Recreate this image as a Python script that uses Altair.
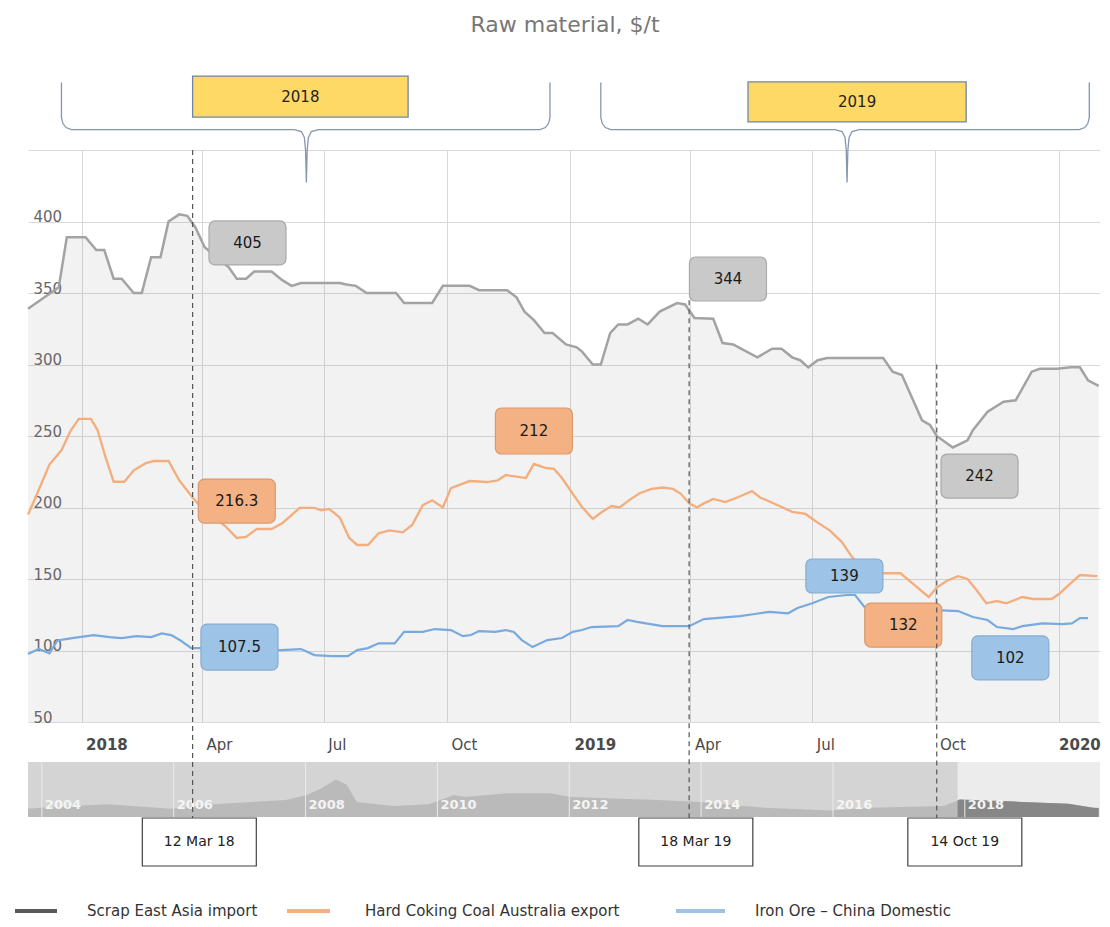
import altair as alt
import pandas as pd

# ---------------- data ----------------
series_names = ["Scrap East Asia import", "Hard Coking Coal Australia export", "Iron Ore – China Domestic"]

scrap_dates = ["2017-11-22","2017-12-15","2017-12-21","2018-01-04","2018-01-12","2018-01-18","2018-01-25","2018-01-31","2018-02-09","2018-02-15",
               "2018-02-22","2018-03-01","2018-03-07","2018-03-15","2018-03-21","2018-03-27","2018-04-03","2018-04-21","2018-04-27","2018-05-04",
               "2018-05-10","2018-05-23","2018-05-31","2018-06-07","2018-06-14","2018-07-13","2018-07-18","2018-07-25","2018-08-02","2018-08-24",
               "2018-08-30","2018-09-20","2018-09-28","2018-10-18","2018-10-25","2018-11-15","2018-11-22","2018-11-28","2018-12-05","2018-12-13",
               "2018-12-19","2018-12-29","2019-01-06","2019-01-10","2019-01-18","2019-01-24","2019-01-31","2019-02-06","2019-02-13","2019-02-21",
               "2019-02-28","2019-03-09","2019-03-22","2019-03-28","2019-04-04","2019-04-18","2019-04-25","2019-05-03","2019-05-08","2019-05-21",
               "2019-06-01","2019-06-08","2019-06-16","2019-06-22","2019-06-28","2019-07-05","2019-07-12","2019-08-23","2019-08-30","2019-09-06",
               "2019-09-21","2019-09-27","2019-10-02","2019-10-14","2019-10-25","2019-10-29","2019-11-09","2019-11-21","2019-11-30","2019-12-12",
               "2019-12-18","2019-12-31","2020-01-10","2020-01-17","2020-01-23","2020-01-31"]
scrap_vals = [339,354,389,389,380,380,360,360,350,350,
              375,375,400,405,404,396,382,368,360,360,
              365,365,359,355,357,357,356,355,350,350,
              343,343,355,355,352,352,347,337,331,322,
              322,314,312,309,300,300,322,328,328,332,
              328,337,343,342,332.5,332,315,314,311.5,305,
              311,311,305,303,298,303,304.5,304.5,295,292.6,
              261,257.7,250,242,247,254,267,274,275,295,
              297,297,298,298,289,285]

coal_dates = ["2017-11-22","2017-11-29","2017-12-08","2017-12-17","2017-12-24","2017-12-30","2018-01-08","2018-01-13","2018-01-19","2018-01-25",
              "2018-02-02","2018-02-09","2018-02-18","2018-02-24","2018-03-07","2018-03-15","2018-03-25","2018-03-30","2018-04-10","2018-04-19",
              "2018-04-27","2018-05-04","2018-05-12","2018-05-23","2018-05-31","2018-06-13","2018-06-24","2018-06-29","2018-07-05","2018-07-13",
              "2018-07-20","2018-07-26","2018-08-03","2018-08-11","2018-08-19","2018-08-29","2018-09-05","2018-09-13","2018-09-20","2018-09-28",
              "2018-10-04","2018-10-18","2018-10-31","2018-11-08","2018-11-14","2018-11-29","2018-12-05","2018-12-14","2018-12-20","2018-12-26",
              "2019-01-02","2019-01-10","2019-01-18","2019-01-25","2019-02-01","2019-02-07","2019-02-14","2019-02-22","2019-03-03","2019-03-11",
              "2019-03-19","2019-03-25","2019-03-31","2019-04-06","2019-04-10","2019-04-18","2019-04-27","2019-05-06","2019-05-17","2019-05-23",
              "2019-06-02","2019-06-16","2019-06-26","2019-07-04","2019-07-14","2019-07-23","2019-07-31","2019-08-11","2019-08-23","2019-09-05",
              "2019-09-15","2019-09-26","2019-10-02","2019-10-10","2019-10-18","2019-10-25","2019-11-01","2019-11-08","2019-11-16","2019-11-23",
              "2019-12-05","2019-12-13","2019-12-27","2020-01-02","2020-01-10","2020-01-17","2020-01-30"]
coal_vals = [195,210,230,240,254,262,262,254,235,218,
             218,226,231,232.5,232.5,219,207,201.7,193,186.4,
             178.7,179.4,185,185,189,199.7,199.7,198,199,193,
             178.7,173.8,173.8,182,184,182.6,187.8,201.7,205,200,
             213.6,218.5,217.8,219,222.7,220.6,230.4,227.6,227,220.6,
             211,200.3,192,197,201,200,205,210,213,214,
             213,209.4,203,200,202.4,206,203.8,207,211.5,207,
             203,197,195.5,190,184,176,165,155,154,154,
             146,137.4,144,149,152,150,142,133,134.6,133,
             137.4,136,136,140,147,152.8,152]

ore_dates = ["2017-11-22","2017-11-30","2017-12-08","2017-12-14","2017-12-25","2018-01-10","2018-01-22","2018-01-31","2018-02-11","2018-02-22",
             "2018-03-02","2018-03-09","2018-03-16","2018-03-24","2018-03-30","2018-04-29","2018-05-30","2018-06-14","2018-06-24","2018-07-07",
             "2018-07-19","2018-07-26","2018-08-03","2018-08-11","2018-08-23","2018-08-30","2018-09-13","2018-09-22","2018-10-04","2018-10-13",
             "2018-10-19","2018-10-25","2018-11-06","2018-11-14","2018-11-20","2018-11-26","2018-12-04","2018-12-15","2018-12-26","2019-01-03",
             "2019-01-10","2019-01-17","2019-02-06","2019-02-13","2019-02-20","2019-03-11","2019-03-31","2019-04-11","2019-04-29","2019-05-08",
             "2019-05-19","2019-05-30","2019-06-13","2019-06-20","2019-07-01","2019-07-13","2019-07-27","2019-08-02","2019-08-09","2019-08-20",
             "2019-09-08","2019-10-06","2019-10-18","2019-10-29","2019-11-09","2019-11-16","2019-11-28","2019-12-05","2019-12-20","2020-01-04",
             "2020-01-11","2020-01-17","2020-01-23"]
ore_vals = [97.6,101,98,107,108.7,110.8,109.4,108.7,110,109.4,
            112,110.8,107,101.7,101.7,101,100.3,101,96.8,96,
            96,100.3,101.7,105,105,113,113,115,114.3,110,
            110.8,113.6,113,114.3,113,107.3,102.4,107.3,108.7,113,
            114.3,116.4,117,121.3,120,117,117,122,123.4,124,
            125.5,127,126,129.7,133,137.4,138.8,138.8,130.4,128,
            129,128,127.6,123.4,121.3,116.4,115,117,119,118.5,
            119,122.7,122.7]

# navigator (long history, thumbnail)
nav_year = [2003.79,2004.02,2004.99,2005.96,2006.61,2007.70,2008.02,2008.24,2008.46,2008.62,
            2008.78,2009.33,2009.87,2010.25,2010.41,2011.06,2011.71,2012.03,2013.34,2013.99,
            2014.96,2015.94,2016.58,2017.68,2017.89,2017.92,2018.75,2019.57,2019.95,2020.03]
nav_vals = [190,205,240,190,240,285,340,415,510,455,
            265,220,240,340,318,360,360,318,285,265,
            200,170,200,220,280,290,268,245,200,198]
nav_label_years = [2004, 2006, 2008, 2010, 2012, 2014, 2016, 2018]
nav_selection = [2017.89, 2020.05]

quarter_ticks = [(2018, 1), (2018, 4), (2018, 7), (2018, 10), (2019, 1), (2019, 4), (2019, 7), (2019, 10), (2020, 1)]
y_ticks = [50, 100, 150, 200, 250, 300, 350, 400, 450]

# annotations
callout_text = ["405", "344", "242", "212", "216.3", "132", "139", "107.5", "102"]
callout_date = ["2018-05-05", "2019-04-29", "2019-11-03", "2018-12-05", "2018-04-27", "2019-09-07", "2019-07-25", "2018-04-29", "2019-11-26"]
callout_value = [385, 359.8, 222, 253.5, 204.5, 117.8, 152.1, 102.4, 94.8]
callout_series = [0, 0, 0, 1, 1, 1, 2, 2, 2]

marker_label = ["12 Mar 18", "18 Mar 19", "14 Oct 19"]
marker_line_date = ["2018-03-25", "2019-03-31", "2019-10-02"]
marker_line_top = [450, 345, 300]
marker_box_date = ["2018-03-30", "2019-04-05", "2019-10-23"]

year_label = ["2018", "2019"]
year_box_start = ["2018-03-25", "2019-05-14"]
year_box_end = ["2018-09-02", "2019-10-24"]
year_box_low = [473, 469.6]
year_box_high = [501.7, 497.6]
brace_spans = [("2017-12-17", "2018-06-18", "2018-12-17"), ("2019-01-24", "2019-07-27", "2020-01-24")]
brace_mid_value = 464.3

title_text = "Raw material, $/t"

# ---------------- layout / style ----------------
FONT = "DejaVu Sans"
W, H = 1072, 572
X0, X1 = pd.Timestamp("2017-11-22"), pd.Timestamp("2020-02-01")
PX_DAY = W / (X1 - X0).days
PX_VAL = H / (450 - 50)

line_colors = ["#a3a3a3", "#f4ae7e", "#78aade"]
line_widths = [2.5, 2.2, 2.5]
legend_colors = ["#5a5a5a", "#f4b183", "#9dc3e6"]
box_fill = ["#c9c9c9", "#f4b183", "#9dc3e6"]
box_stroke = ["#a9a9a9", "#d99a6e", "#86acd2"]

def xscale():
    return alt.Scale(domain=[alt.DateTime(year=2017, month=11, date=22), alt.DateTime(year=2020, month=2, date=1)], nice=False)

def yscale():
    return alt.Scale(domain=[50, 450], nice=False, zero=False)

xaxis = alt.Axis(
    values=[alt.DateTime(year=y, month=m, date=1) for y, m in quarter_ticks],
    grid=True, gridColor="#d9d9d9", gridWidth=1, domain=False, ticks=False, tickSize=0,
    labelAlign="left", labelPadding=15, labelBaseline="top",
    labelOffset={"condition": {"test": "year(datum.value) == 2020", "value": 0}, "value": 4},
    labelExpr="month(datum.value) == 0 ? timeFormat(datum.value, '%Y') : timeFormat(datum.value, '%b')",
    labelFontWeight={"condition": {"test": "month(datum.value) == 0", "value": "bold"}, "value": "normal"},
    labelFont=FONT, labelFontSize=15, labelColor="#4a4a4a", labelFlush=False, labelOverlap=False, title=None,
)
yaxis = alt.Axis(
    values=y_ticks, grid=True, gridColor="#d9d9d9", gridWidth=1, domain=False, ticks=False, tickSize=0,
    labelAlign="left", labelPadding=-5, labelBaseline="alphabetic",
    labelExpr="datum.value >= 450 ? '' : datum.label",
    labelFont=FONT, labelFontSize=15, labelColor="#666666", labelFlush=False, labelOverlap=False, title=None,
)

# ---------------- frames ----------------
def frame(dates, vals, name):
    return pd.DataFrame({"date": pd.to_datetime(dates), "value": vals, "series": name})

scrap_df = frame(scrap_dates, scrap_vals, series_names[0])
lines_df = pd.concat([
    scrap_df,
    frame(coal_dates, coal_vals, series_names[1]),
    frame(ore_dates, ore_vals, series_names[2]),
], ignore_index=True)

half_w_days = 38.5 / PX_DAY
callout_half_h = [22, 22, 22, 23, 22, 22, 17, 23, 22]
cd = pd.to_datetime(callout_date)
callout_df = pd.DataFrame({
    "text": callout_text,
    "cx": cd,
    "cy": callout_value,
    "x1": cd - pd.to_timedelta(half_w_days, unit="D"),
    "x2": cd + pd.to_timedelta(half_w_days, unit="D"),
    "y1": [v - h / PX_VAL for v, h in zip(callout_value, callout_half_h)],
    "y2": [v + h / PX_VAL for v, h in zip(callout_value, callout_half_h)],
    "fill": [box_fill[s] for s in callout_series],
    "stroke": [box_stroke[s] for s in callout_series],
})

md = pd.to_datetime(marker_box_date)
mhw = 57 / PX_DAY
marker_df = pd.DataFrame({
    "label": marker_label,
    "line_date": pd.to_datetime(marker_line_date),
    "top": marker_line_top,
    "cx": md,
    "x1": md - pd.to_timedelta(mhw, unit="D"),
    "x2": md + pd.to_timedelta(mhw, unit="D"),
})

yb_start = pd.to_datetime(year_box_start)
yb_end = pd.to_datetime(year_box_end)
year_df = pd.DataFrame({
    "label": year_label,
    "x1": yb_start, "x2": yb_end,
    "y1": year_box_low, "y2": year_box_high,
    "cx": yb_start + (yb_end - yb_start) / 2,
    "cy": [(a + b) / 2 for a, b in zip(year_box_low, year_box_high)],
})

# brace shape template: (dx px, dy px above the brace's horizontal line)
tmpl_left = [(0, 47), (0, 12), (1.5, 6), (4.5, 2), (10, 0)]
tmpl_tip = [(-12, 0), (-5, -2), (-2, -8), (-0.8, -21), (0, -53), (0.8, -21), (2, -8), (5, -2), (12, 0)]
tmpl_right = [(-10, 0), (-4.5, 2), (-1.5, 6), (0, 12), (0, 47)]
brace_rows = []
for bi, (a, c, b) in enumerate(brace_spans):
    i = 0
    for anchor, tmpl in ((a, tmpl_left), (c, tmpl_tip), (b, tmpl_right)):
        t0 = pd.Timestamp(anchor)
        for dx, dy in tmpl:
            brace_rows.append({"brace": bi, "i": i,
                               "date": t0 + pd.to_timedelta(dx / PX_DAY, unit="D"),
                               "value": brace_mid_value + dy / PX_VAL})
            i += 1
brace_df = pd.DataFrame(brace_rows)

nav_df = pd.DataFrame({"year": nav_year, "v": nav_vals})
nav_sel_df = nav_df[nav_df["year"] >= nav_selection[0]]
nav_lab_df = pd.DataFrame({"year": nav_label_years, "label": [str(y) for y in nav_label_years]})
nav_band_df = pd.DataFrame({"s": [nav_selection[0]], "e": [nav_selection[1]]})

legend_df = pd.DataFrame({
    "name": series_names,
    "color": legend_colors,
    "lx1": [-13, 259, 648],
    "lx2": [29, 302, 697],
    "tx": [59, 337, 727],
})

one = pd.DataFrame({"t": [title_text]})

# ---------------- main plot layers ----------------
X = lambda f: alt.X(f, scale=xscale(), axis=None)
Y = lambda f: alt.Y(f, scale=yscale(), axis=None)

area = alt.Chart(scrap_df).mark_area(color="#808080", opacity=0.1).encode(
    x=alt.X("date:T", scale=xscale(), axis=xaxis),
    y=alt.Y("value:Q", scale=yscale(), axis=yaxis, stack=None),
    y2=alt.datum(50),
)

lines = alt.Chart(lines_df).mark_line().encode(
    x=X("date:T"), y=Y("value:Q"),
    color=alt.Color("series:N", scale=alt.Scale(domain=series_names, range=line_colors), legend=None),
    strokeWidth=alt.StrokeWidth("series:N", scale=alt.Scale(domain=series_names, range=line_widths), legend=None),
)

callout_boxes = alt.Chart(callout_df).mark_rect(cornerRadius=6, strokeWidth=1.2).encode(
    x=X("x1:T"), x2="x2:T", y=Y("y1:Q"), y2="y2:Q",
    fill=alt.Fill("fill:N", scale=None), stroke=alt.Stroke("stroke:N", scale=None),
)
callout_texts = alt.Chart(callout_df).mark_text(font=FONT, fontSize=15, color="#1a1a1a", baseline="middle").encode(
    x=X("cx:T"), y=Y("cy:Q"), text="text:N",
)

braces = alt.Chart(brace_df).mark_line(color="#8497b0", strokeWidth=1.3).encode(
    x=X("date:T"), y=Y("value:Q"), detail="brace:N", order="i:Q",
)
year_boxes = alt.Chart(year_df).mark_rect(fill="#ffd966", stroke="#6f86a6", strokeWidth=1.3).encode(
    x=X("x1:T"), x2="x2:T", y=Y("y1:Q"), y2="y2:Q",
)
year_texts = alt.Chart(year_df).mark_text(font=FONT, fontSize=15, color="#222222", baseline="middle").encode(
    x=X("cx:T"), y=Y("cy:Q"), text="label:N",
)

# ---------------- navigator ----------------
def navx():
    return alt.Scale(domain=[2003.79, 2020.05], nice=False, zero=False)

def navy():
    return alt.Scale(domain=[100, 700], range=[667, 612], nice=False, zero=False)

nav_bg = alt.Chart(one).mark_rect(fill="#d4d4d4").encode(
    x=alt.value(0), x2=alt.value(W), y=alt.value(612), y2=alt.value(667))
nav_band = alt.Chart(nav_band_df).mark_rect(fill="#ececec").encode(
    x=alt.X("s:Q", scale=navx(), axis=None), x2="e:Q", y=alt.value(612), y2=alt.value(667))
nav_area = alt.Chart(nav_df).mark_area(color="#bababa").encode(
    x=alt.X("year:Q", scale=navx(), axis=None), y=alt.Y("v:Q", scale=navy(), axis=None, stack=None), y2=alt.datum(100))
nav_area_sel = alt.Chart(nav_sel_df).mark_area(color="#878787").encode(
    x=alt.X("year:Q", scale=navx(), axis=None), y=alt.Y("v:Q", scale=navy(), axis=None, stack=None), y2=alt.datum(100))
nav_grid = alt.Chart(nav_lab_df).mark_rule(color="#ebebeb", strokeWidth=1).encode(
    x=alt.X("year:Q", scale=navx(), axis=None), y=alt.value(612), y2=alt.value(667))
nav_text = alt.Chart(nav_lab_df).mark_text(font=FONT, fontSize=13, fontWeight="bold", color="#f4f4f4",
                                           align="left", baseline="middle", dx=3).encode(
    x=alt.X("year:Q", scale=navx(), axis=None), y=alt.value(655), text="label:N")

# ---------------- overlay: markers, title, legend ----------------
dashed = alt.Chart(marker_df).mark_rule(color="#555555", strokeWidth=1.2, strokeDash=[5, 4]).encode(
    x=X("line_date:T"), y=Y("top:Q"), y2=alt.value(668))
marker_boxes = alt.Chart(marker_df).mark_rect(fill="white", stroke="#404040", strokeWidth=1.2).encode(
    x=X("x1:T"), x2="x2:T", y=alt.value(668), y2=alt.value(716))
marker_texts = alt.Chart(marker_df).mark_text(font=FONT, fontSize=14, color="#222222", baseline="middle").encode(
    x=X("cx:T"), y=alt.value(692), text="label:N")

title = alt.Chart(one).mark_text(font=FONT, fontSize=22, color="#777777", baseline="middle").encode(
    x=alt.value(537), y=alt.value(-125), text="t:N")

LEG_Y = 761
legend_rules = alt.Chart(legend_df).mark_rule(strokeWidth=4).encode(
    x=alt.X("lx1:Q", scale=None), x2="lx2:Q", y=alt.value(LEG_Y),
    color=alt.Color("color:N", scale=None))
legend_texts = alt.Chart(legend_df).mark_text(font=FONT, fontSize=15, color="#333333", align="left", baseline="middle").encode(
    x=alt.X("tx:Q", scale=None), y=alt.value(LEG_Y), text="name:N")

chart = alt.layer(
    area, lines, braces, year_boxes, year_texts, callout_boxes, callout_texts,
    nav_bg, nav_band, nav_area, nav_area_sel, nav_grid, nav_text,
    dashed, marker_boxes, marker_texts, title, legend_rules, legend_texts,
).resolve_scale(x="independent", y="independent").properties(
    width=W, height=H,
    padding={"left": 20, "top": 142, "right": 2, "bottom": 197},
    autosize=alt.AutoSizeParams(type="none"),
).configure_view(strokeWidth=0)

chart.save("out.html", embed_options={"renderer": "svg", "actions": False})
